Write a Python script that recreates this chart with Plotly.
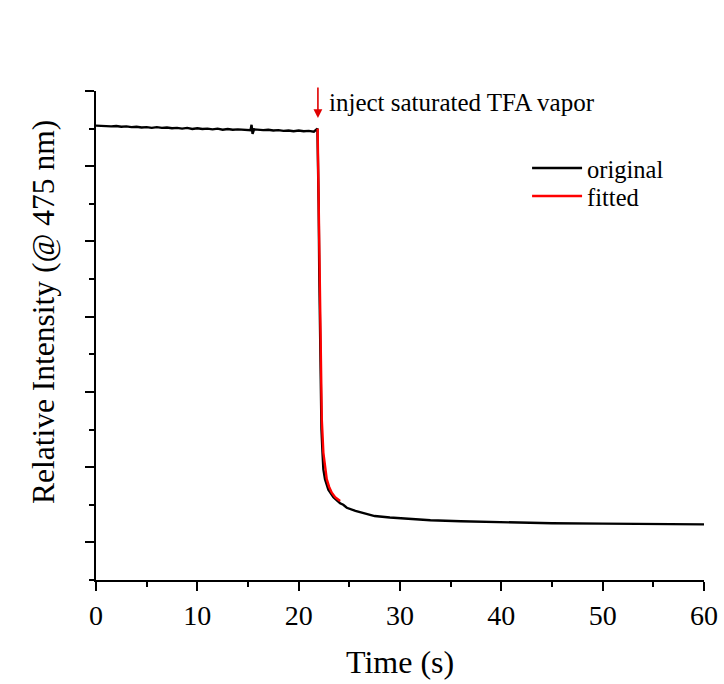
import plotly.graph_objects as go

# ---- data ----
orig_t = [0.0, 0.5, 1.0, 1.5, 2.0, 2.5, 3.0, 3.5, 4.0, 4.5, 5.0, 5.5, 6.0, 6.5, 7.0, 7.5,
          8.0, 8.5, 9.0, 9.5, 10.0, 10.5, 11.0, 11.5, 12.0, 12.5, 13.0, 13.5, 14.0, 14.5,
          15.0, 15.25, 15.35, 15.45, 15.6, 16.0, 16.5, 17.0, 17.5, 18.0, 18.5, 19.0, 19.5,
          20.0, 20.5, 21.0, 21.5, 21.85,
          21.9, 21.97, 22.03, 22.1, 22.17, 22.25, 22.35, 22.44, 22.6, 22.93, 23.43, 24.09,
          24.4, 24.75, 25.6, 26.5, 27.5, 29.0, 31.0, 33.0, 36.0, 40.0, 45.0, 50.0, 55.0, 60.0]
orig_v = [5.54, 5.535, 5.54, 5.53, 5.535, 5.525, 5.53, 5.52, 5.525, 5.515, 5.52, 5.51,
          5.52, 5.51, 5.515, 5.505, 5.51, 5.50, 5.51, 5.495, 5.505, 5.495, 5.50, 5.49,
          5.50, 5.485, 5.495, 5.485, 5.49, 5.485,
          5.49, 5.48, 5.55, 5.43, 5.49, 5.485, 5.48, 5.485, 5.475, 5.48, 5.47, 5.475, 5.465,
          5.475, 5.465, 5.47, 5.46, 5.50,
          5.2, 4.5, 3.6, 2.7, 2.0, 1.5, 1.2, 0.97, 0.84, 0.70, 0.60, 0.52,
          0.50, 0.46, 0.42, 0.385, 0.35, 0.33, 0.31, 0.295, 0.28, 0.265, 0.255, 0.25, 0.245, 0.24]

fit_t = [21.87, 21.95, 22.03, 22.1, 22.18, 22.28, 22.44, 22.6, 22.77, 23.0, 23.27, 23.6, 24.09]
fit_v = [5.50, 4.80, 4.00, 3.20, 2.50, 1.64, 1.19, 0.98, 0.84, 0.74, 0.66, 0.60, 0.55]

x_ticks = [0, 10, 20, 30, 40, 50, 60]
y_major = [0, 1, 2, 3, 4, 5, 6]

inject_time = 21.9
inject_level = 5.64
annotation_text = "inject saturated TFA vapor"

FONT = "Liberation Serif, Times New Roman, serif"

fig = go.Figure()
fig.add_trace(go.Scatter(x=orig_t, y=orig_v, mode="lines", name="original",
                         line=dict(color="black", width=2.4), legend="legend"))
fig.add_trace(go.Scatter(x=fit_t, y=fit_v, mode="lines", name="fitted",
                         line=dict(color="#ff0000", width=2.4), legend="legend2"))

axis_common = dict(showline=True, linecolor="black", linewidth=2, showgrid=False,
                   zeroline=False, ticks="outside", tickcolor="black", tickwidth=2,
                   ticklen=9, mirror=False, automargin=False)

fig.update_xaxes(range=[0, 60], tickvals=x_ticks, ticktext=[str(v) for v in x_ticks],
                 tickfont=dict(family=FONT, size=28, color="black"),
                 minor=dict(dtick=5, ticks="outside", ticklen=5, tickwidth=2, tickcolor="black"),
                 **axis_common)
fig.update_yaxes(range=[-0.5, 6], tickvals=y_major, showticklabels=False,
                 minor=dict(dtick=0.5, tick0=0, ticks="outside", ticklen=5, tickwidth=2,
                            tickcolor="black"),
                 **axis_common)

fig.add_annotation(x=inject_time, y=inject_level, xref="x", yref="y", text="",
                   showarrow=True, arrowhead=2, arrowsize=1.1, arrowwidth=1.6,
                   arrowcolor="#e00000", ax=0, ay=-32)
fig.add_annotation(x=22.8, y=5.85, xref="x", yref="y", text=annotation_text,
                   showarrow=False, xanchor="left", yanchor="middle",
                   font=dict(family=FONT, size=25, color="black"))

fig.add_annotation(x=0.5, y=0, xref="paper", yref="paper", text="Time (s)",
                   showarrow=False, xanchor="center", yanchor="middle", yshift=-82,
                   font=dict(family=FONT, size=32, color="black"))
fig.add_annotation(x=0, y=0.548, xref="paper", yref="paper",
                   text="Relative Intensity (@ 475 nm)", textangle=-90,
                   showarrow=False, xanchor="center", yanchor="middle", xshift=-53,
                   font=dict(family=FONT, size=31.5, color="black"))

legend_style = dict(xanchor="left", yanchor="middle",
                    font=dict(family=FONT, size=24.5, color="black"),
                    bgcolor="rgba(0,0,0,0)", itemwidth=50)

fig.update_layout(
    width=724, height=684,
    margin=dict(l=96, r=20, t=91, b=104, autoexpand=False),
    paper_bgcolor="white", plot_bgcolor="white",
    showlegend=True,
    legend=dict(x=0.709, y=0.8425, **legend_style),
    legend2=dict(x=0.709, y=0.785, **legend_style),
)

fig.write_html("out.html", config={"displayModeBar": False, "responsive": False},
               post_script="document.body.style.margin='0px';document.body.style.overflow='hidden';")
